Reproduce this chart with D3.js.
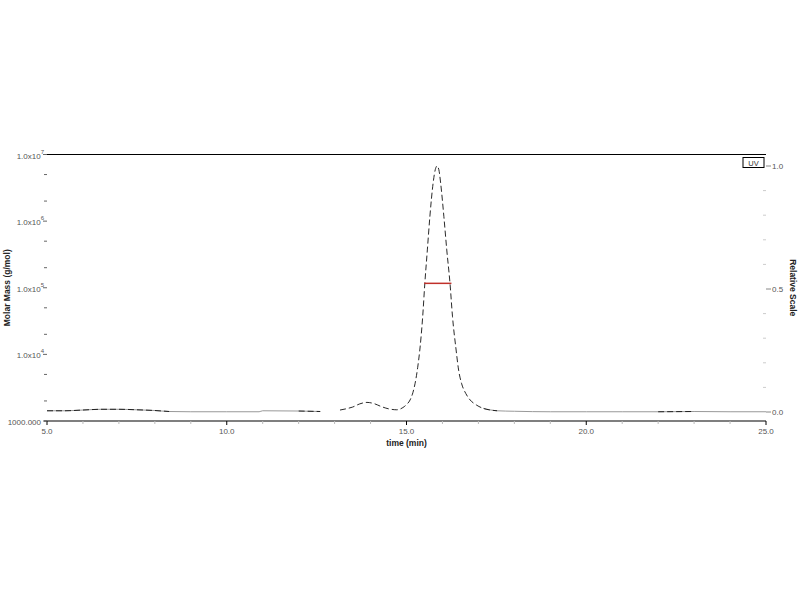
<!DOCTYPE html>
<html><head><meta charset="utf-8">
<script src="https://cdn.jsdelivr.net/npm/d3@7/dist/d3.min.js"></script>
<style>body{margin:0;background:#fff}</style>
</head><body>
<svg id="c" width="800" height="600"></svg>
<script>
// ---- data ----
const uvTime  = [5.0,5.5,6.0,6.5,7.0,7.5,8.0,8.4,9.0,10.0,10.9,11.0,12.0,12.6,null,
  13.15,13.35,13.5,13.7,13.9,14.1,14.3,14.5,14.73,14.9,15.0,15.1,15.18,15.24,15.31,15.37,15.45,15.51,15.58,15.65,15.74,15.8,15.85,
  15.9,15.95,16.04,16.12,16.21,16.28,16.38,16.45,16.53,16.65,16.77,16.95,17.13,17.52,18.0,19.0,20.0,21.0,22.0,23.0,24.0,25.0];
const uvValue = [0.005,0.005,0.008,0.011,0.011,0.009,0.006,0.002,0.001,0.001,0.001,0.005,0.004,0.002,null,
  0.008,0.014,0.02,0.033,0.039,0.034,0.022,0.013,0.009,0.018,0.03,0.049,0.08,0.117,0.18,0.252,0.387,0.523,0.659,0.794,0.93,0.985,1.0,
  0.985,0.93,0.794,0.659,0.523,0.387,0.252,0.17,0.117,0.075,0.049,0.028,0.015,0.005,0.003,0.001,0.001,0.001,0.001,0.002,0.001,0.001];
const dashedRanges = [[5,8.4],[12.0,12.6],[13.15,17.6],[22.0,23.0]];
const halfWidth = {t0:15.49, t1:16.25, v:0.523};
const xTicks = [5,10,15,20,25];
const xTickLabels = ["5.0","10.0","15.0","20.0","25.0"];
const yLeftTicks = [1e7,1e6,1e5,1e4,1e3];
const yLeftExp = ["7","6","5","4",null];
const yRightTicks = [0,0.5,1.0];
const yRightTickLabels = ["0.0","0.5","1.0"];

const svg = d3.select("#c");
const L=47, R=766, T=154.5, B=421;
const x = d3.scaleLinear().domain([5,25]).range([L,R]);
const yL = d3.scaleLog().domain([1000,1e7]).range([B,T]);
const yR = d3.scaleLinear().domain([0,1]).range([412,166]);
const font = "Liberation Sans, Arial, sans-serif";

// top border
svg.append("line").attr("x1",L-3).attr("x2",R).attr("y1",T).attr("y2",T).attr("stroke","#000").attr("stroke-width",1.1);

// bottom axis
const gx = svg.append("g").attr("transform",`translate(0,${B})`);
gx.append("line").attr("x1",L-3).attr("x2",R).attr("stroke","#000").attr("stroke-width",1.1);
d3.range(5,26,1).forEach(t=>{
  const major = xTicks.includes(t);
  gx.append("line").attr("x1",x(t)).attr("x2",x(t)).attr("y1",0).attr("y2",major?4:3)
    .attr("stroke",major?"#000":"#bbb").attr("stroke-width",1);
});
xTicks.forEach((t,i)=>gx.append("text").attr("x",x(t)).attr("y",13).attr("text-anchor","middle")
  .attr("font-family",font).attr("font-size",8).attr("fill","#555").text(xTickLabels[i]));
svg.append("text").attr("x",x(15)).attr("y",446).attr("text-anchor","middle").attr("font-family",font)
  .attr("font-size",8.5).attr("font-weight","bold").attr("fill","#222").text("time (min)");

// left axis (log)
const gl = svg.append("g");
[1e3,1e4,1e5,1e6].forEach(d=>{
  [2,5].forEach(m=>{
    gl.append("line").attr("x1",L-3).attr("x2",L).attr("y1",yL(d*m)).attr("y2",yL(d*m)).attr("stroke","#666");
  });
});
yLeftTicks.forEach((d,i)=>{
  gl.append("line").attr("x1",L-4).attr("x2",L).attr("y1",yL(d)).attr("y2",yL(d)).attr("stroke","#666");
  const tx = gl.append("text").attr("x",L-6).attr("y",yL(d)+4).attr("text-anchor","end")
    .attr("font-family",font).attr("font-size",8).attr("fill","#555");
  if (yLeftExp[i]) {
    tx.append("tspan").text("1.0x10");
    tx.append("tspan").attr("dy",-5).attr("font-size",6).text(yLeftExp[i]);
    tx.attr("x",L-3);
  } else {
    tx.text("1000.000");
  }
});
svg.append("text").attr("transform",`translate(10,${(T+B)/2}) rotate(-90)`).attr("text-anchor","middle")
  .attr("font-family",font).attr("font-size",8.5).attr("font-weight","bold").attr("fill","#222").text("Molar Mass (g/mol)");

// right axis
const gr = svg.append("g");
d3.range(1,10).forEach(k=>{
  const v=k/10; if (v===0.5) return;
  gr.append("line").attr("x1",R-3).attr("x2",R).attr("y1",yR(v)).attr("y2",yR(v)).attr("stroke","#ccc");
});
yRightTicks.forEach((v,i)=>{
  gr.append("line").attr("x1",R).attr("x2",R+5).attr("y1",yR(v)).attr("y2",yR(v)).attr("stroke","#888");
  gr.append("text").attr("x",R+6).attr("y",yR(v)+3).attr("font-family",font).attr("font-size",8)
    .attr("fill","#555").text(yRightTickLabels[i]);
});
svg.append("text").attr("transform",`translate(790,${(T+B)/2}) rotate(90)`).attr("text-anchor","middle")
  .attr("font-family",font).attr("font-size",8.5).attr("font-weight","bold").attr("fill","#222").text("Relative Scale");

// data
const pts = uvTime.map((t,i)=>({t, v: uvValue[i]}));
const isDef = d=>d.t!==null && d.v!==null;
// grey solid underlay on baseline parts
svg.append("path").attr("d", d3.line().defined(d=>isDef(d) && (d.t<=12.6 || d.t>=17.13)).x(d=>x(d.t)).y(d=>yR(d.v)).curve(d3.curveMonotoneX)(pts))
  .attr("fill","none").attr("stroke","#999").attr("stroke-width",1);
// dashed black trace
const inDash = d=>isDef(d) && dashedRanges.some(r=>d.t>=r[0] && d.t<=r[1]);
svg.append("path").attr("d", d3.line().defined(inDash).x(d=>x(d.t)).y(d=>yR(d.v)).curve(d3.curveMonotoneX)(pts))
  .attr("fill","none").attr("stroke","#111").attr("stroke-width",0.9).attr("stroke-dasharray","6,3");

// half-width marker
svg.append("line").attr("x1",x(halfWidth.t0)).attr("x2",x(halfWidth.t1))
  .attr("y1",yR(halfWidth.v)).attr("y2",yR(halfWidth.v)).attr("stroke","#c0302a").attr("stroke-width",1.5);

// UV legend
svg.append("rect").attr("x",743).attr("y",157.5).attr("width",21).attr("height",10)
  .attr("fill","#fff").attr("stroke","#000").attr("stroke-width",1);
svg.append("text").attr("x",753.5).attr("y",165.5).attr("text-anchor","middle").attr("font-family",font)
  .attr("font-size",7.5).attr("fill","#333").text("UV");
</script>
</body></html>
